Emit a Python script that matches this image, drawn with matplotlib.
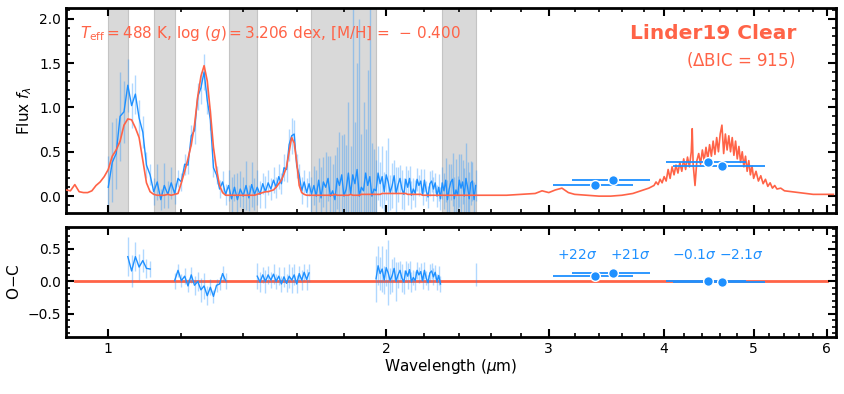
import numpy as np
import matplotlib
matplotlib.use("Agg")
import matplotlib.pyplot as plt
from matplotlib.ticker import MultipleLocator, NullFormatter

# observed spectrum, 1.00 - 2.50 um in 0.01 steps
obs_wl = [
    1.00, 1.01, 1.02, 1.03, 1.04, 1.05, 1.06, 1.07, 1.08, 1.09,
    1.10, 1.11, 1.12, 1.13, 1.14, 1.15, 1.16, 1.17, 1.18, 1.19,
    1.20, 1.21, 1.22, 1.23, 1.24, 1.25, 1.26, 1.27, 1.28, 1.29,
    1.30, 1.31, 1.32, 1.33, 1.34, 1.35, 1.36, 1.37, 1.38, 1.39,
    1.40, 1.41, 1.42, 1.43, 1.44, 1.45, 1.46, 1.47, 1.48, 1.49,
    1.50, 1.51, 1.52, 1.53, 1.54, 1.55, 1.56, 1.57, 1.58, 1.59,
    1.60, 1.61, 1.62, 1.63, 1.64, 1.65, 1.66, 1.67, 1.68, 1.69,
    1.70, 1.71, 1.72, 1.73, 1.74, 1.75, 1.76, 1.77, 1.78, 1.79,
    1.80, 1.81, 1.82, 1.83, 1.84, 1.85, 1.86, 1.87, 1.88, 1.89,
    1.90, 1.91, 1.92, 1.93, 1.94, 1.95, 1.96, 1.97, 1.98, 1.99,
    2.00, 2.01, 2.02, 2.03, 2.04, 2.05, 2.06, 2.07, 2.08, 2.09,
    2.10, 2.11, 2.12, 2.13, 2.14, 2.15, 2.16, 2.17, 2.18, 2.19,
    2.20, 2.21, 2.22, 2.23, 2.24, 2.25, 2.26, 2.27, 2.28, 2.29,
    2.30, 2.31, 2.32, 2.33, 2.34, 2.35, 2.36, 2.37, 2.38, 2.39,
    2.40, 2.41, 2.42, 2.43, 2.44, 2.45, 2.46, 2.47, 2.48, 2.49,
    2.50,
]
obs_flux = [
    0.10, 0.38, 0.48, 0.90, 0.95, 1.25, 1.02, 1.15, 0.88, 0.72,
    0.35, 0.24, 0.05, 0.16, -0.04, 0.12, 0.02, 0.15, 0.03, 0.20,
    0.16, 0.36, 0.35, 0.68, 0.74, 1.12, 1.22, 1.40, 1.08, 0.86,
    0.32, 0.24, 0.08, 0.16, 0.02, 0.12, -0.03, 0.10, -0.04, 0.08,
    0.00, 0.12, -0.02, 0.13, 0.02, 0.10, 0.02, 0.14, 0.05, 0.15,
    0.08, 0.18, 0.10, 0.22, 0.14, 0.32, 0.30, 0.58, 0.68, 0.70,
    0.34, 0.24, 0.06, 0.16, 0.04, 0.14, 0.02, 0.12, 0.00, 0.18,
    -0.02, 0.16, 0.10, 0.20, 0.00, 0.06, -0.04, 0.20, 0.12, 0.24,
    0.00, 0.08, 0.26, 0.02, 0.24, 0.14, 0.30, 0.00, 0.10, 0.06,
    0.26, 0.12, 0.22, 0.00, 0.08, 0.06, 0.26, 0.14, 0.22, 0.05,
    0.24, 0.16, 0.04, 0.12, 0.23, 0.03, 0.13, 0.20, 0.08, 0.02,
    0.19, 0.10, 0.20, 0.01, 0.08, 0.03, 0.19, 0.12, 0.17, 0.02,
    0.18, 0.06, -0.01, 0.14, 0.17, 0.08, 0.15, 0.00, 0.10, -0.03,
    0.15, 0.06, 0.18, -0.04, 0.08, 0.16, 0.19, -0.03, 0.07, 0.01,
    0.18, 0.09, 0.16, 0.00, 0.20, 0.10, -0.03, 0.15, 0.17, -0.04,
    0.12,
]
obs_err = [
    0.35, 0.45, 0.40, 0.50, 0.35, 0.30, 0.25, 0.22, 0.20, 0.18,
    0.15, 0.12, 0.15, 0.20, 0.12, 0.25, 0.15, 0.18, 0.12, 0.10,
    0.10, 0.12, 0.10, 0.12, 0.15, 0.15, 0.18, 0.20, 0.15, 0.12,
    0.10, 0.10, 0.10, 0.12, 0.12, 0.18, 0.25, 0.15, 0.30, 0.20,
    0.22, 0.28, 0.15, 0.25, 0.18, 0.20, 0.15, 0.12, 0.18, 0.14,
    0.12, 0.15, 0.12, 0.14, 0.12, 0.15, 0.14, 0.18, 0.20, 0.16,
    0.14, 0.12, 0.15, 0.13, 0.16, 0.14, 0.20, 0.22, 0.30, 0.25,
    0.35, 0.28, 0.40, 0.25, 0.45, 0.30, 0.50, 0.35, 0.60, 0.45,
    0.70, 0.50, 0.80, 0.55, 1.90, 0.70, 1.20, 2.00, 0.60, 1.00,
    0.50, 1.30, 1.90, 0.60, 0.45, 0.35, 0.30, 0.25, 0.35, 0.22,
    0.28, 0.50, 0.20, 0.25, 0.18, 0.30, 0.20, 0.15, 0.22, 0.18,
    0.15, 0.20, 0.14, 0.16, 0.12, 0.15, 0.13, 0.12, 0.14, 0.12,
    0.13, 0.11, 0.12, 0.14, 0.12, 0.13, 0.11, 0.12, 0.15, 0.13,
    0.18, 0.20, 0.25, 0.22, 0.28, 0.20, 0.30, 0.25, 0.35, 0.22,
    0.30, 0.38, 0.25, 0.32, 0.40, 0.28, 0.30, 0.25, 0.22, 0.20,
    0.18,
]

# model on the same grid as the data
model_on_obs = [
    0.30, 0.45, 0.52, 0.62, 0.80, 0.87, 0.86, 0.77, 0.66, 0.40,
    0.15, 0.05, 0.02, 0.01, 0.01, 0.01, 0.02, 0.01, 0.02, 0.03,
    0.15, 0.28, 0.42, 0.58, 0.80, 1.12, 1.35, 1.47, 1.30, 0.95,
    0.55, 0.30, 0.12, 0.04, 0.01, 0.01, 0.01, 0.01, 0.01, 0.01,
    0.01, 0.01, 0.01, 0.01, 0.01, 0.02, 0.03, 0.04, 0.05, 0.05,
    0.06, 0.07, 0.10, 0.14, 0.18, 0.25, 0.33, 0.50, 0.66, 0.60,
    0.38, 0.12, 0.04, 0.02, 0.01, 0.01, 0.01, 0.01, 0.01, 0.01,
    0.01, 0.01, 0.01, 0.01, 0.01, 0.01, 0.02, 0.01, 0.01, 0.01,
    0.01, 0.01, 0.01, 0.02, 0.01, 0.01, 0.01, 0.01, 0.02, 0.02,
    0.02, 0.02, 0.02, 0.02, 0.02, 0.02, 0.02, 0.02, 0.03, 0.03,
    0.03, 0.03, 0.03, 0.03, 0.03, 0.03, 0.03, 0.03, 0.03, 0.03,
    0.03, 0.02, 0.02, 0.02, 0.02, 0.02, 0.02, 0.02, 0.02, 0.01,
    0.01, 0.01, 0.01, 0.01, 0.01, 0.01, 0.01, 0.01, 0.01, 0.01,
    0.01, 0.01, 0.01, 0.01, 0.01, 0.01, 0.01, 0.01, 0.01, 0.01,
    0.01, 0.01, 0.01, 0.01, 0.01, 0.01, 0.01, 0.01, 0.01, 0.01,
    0.01,
]

# model outside the data range
model_blue_wl = [0.90, 0.91, 0.92, 0.93, 0.94, 0.95, 0.96, 0.97, 0.98, 0.99]
model_blue_flux = [0.07, 0.06, 0.13, 0.05, 0.04, 0.04, 0.06, 0.12, 0.16, 0.22]
model_red_wl = [
    2.55, 2.60, 2.70, 2.80, 2.90, 2.95, 3.00, 3.05, 3.10, 3.15,
    3.20, 3.30, 3.40, 3.50, 3.60, 3.70, 3.75, 3.80, 3.85,
    3.90, 3.92, 3.94, 3.96, 3.98, 4.00, 4.02, 4.04, 4.06, 4.08,
    4.10, 4.12, 4.14, 4.16, 4.18, 4.20, 4.22, 4.24, 4.26, 4.28,
    4.29, 4.30, 4.32, 4.34, 4.36, 4.38, 4.40, 4.42, 4.44, 4.46,
    4.48, 4.50, 4.52, 4.54, 4.56, 4.58, 4.60, 4.62, 4.64, 4.66,
    4.68, 4.70, 4.72, 4.74, 4.76, 4.78, 4.80, 4.82, 4.84, 4.86,
    4.88, 4.90, 4.92, 4.94, 4.96, 4.98, 5.00, 5.03, 5.06, 5.09,
    5.12, 5.15, 5.18, 5.21, 5.24, 5.27, 5.30, 5.35, 5.40, 5.50,
    5.60, 5.70, 5.80, 5.90, 6.00, 6.10,
]
model_red_flux = [
    0.01, 0.01, 0.01, 0.02, 0.03, 0.06, 0.04, 0.07, 0.09, 0.04,
    0.02, 0.01, 0.00, 0.00, 0.01, 0.03, 0.05, 0.07, 0.09,
    0.12, 0.16, 0.13, 0.19, 0.15, 0.22, 0.17, 0.30, 0.20, 0.33,
    0.24, 0.35, 0.26, 0.38, 0.28, 0.42, 0.30, 0.44, 0.33, 0.50,
    0.76, 0.36, 0.12, 0.40, 0.48, 0.36, 0.52, 0.40, 0.55, 0.42,
    0.58, 0.45, 0.62, 0.47, 0.66, 0.50, 0.70, 0.80, 0.48, 0.70,
    0.52, 0.68, 0.50, 0.66, 0.46, 0.62, 0.42, 0.56, 0.38, 0.50,
    0.33, 0.45, 0.28, 0.40, 0.24, 0.34, 0.20, 0.28, 0.17, 0.23,
    0.14, 0.19, 0.11, 0.15, 0.09, 0.12, 0.08, 0.09, 0.06, 0.05,
    0.04, 0.03, 0.02, 0.02, 0.02, 0.02,
]

# masked (shaded) wavelength ranges
mask_lo = [1.00, 1.12, 1.35, 1.66, 2.30]
mask_hi = [1.05, 1.18, 1.45, 1.95, 2.50]

# photometry: WISE W1, IRAC1, IRAC2, WISE W2
phot_wl = [3.37, 3.52, 4.46, 4.62]
phot_flux = [0.12, 0.18, 0.38, 0.34]
phot_lo = [3.03, 3.18, 4.02, 4.09]
phot_hi = [3.70, 3.86, 4.90, 5.15]
phot_resid = [0.08, 0.13, 0.00, -0.01]
phot_sigma = ["+22$\\sigma$", "+21$\\sigma$", "$-$0.1$\\sigma$", "$-$2.1$\\sigma$"]

red = "tomato"
blue = "dodgerblue"

obs_wl = np.array(obs_wl)
obs_flux = np.array(obs_flux)
obs_err = np.array(obs_err)
model_wl = np.concatenate([model_blue_wl, obs_wl, model_red_wl])
model_flux = np.concatenate([model_blue_flux, model_on_obs, model_red_flux])

masked = np.zeros(len(obs_wl), dtype=bool)
for lo, hi in zip(mask_lo, mask_hi):
    masked |= (obs_wl >= lo - 1e-6) & (obs_wl < hi - 1e-6)
resid = np.where(masked, np.nan, obs_flux - np.array(model_on_obs))
resid_err = np.where(masked, np.nan, obs_err)

plt.rcParams["font.family"] = "DejaVu Sans"
plt.rcParams["mathtext.fontset"] = "dejavusans"

fig = plt.figure(figsize=(8.44, 3.94), dpi=100)
ax1 = fig.add_axes([0.0782, 0.4594, 0.9123, 0.5203])
ax2 = fig.add_axes([0.0782, 0.1454, 0.9123, 0.2792])

for lo, hi in zip(mask_lo, mask_hi):
    ax1.axvspan(lo, hi, facecolor="#d9d9d9", edgecolor="#c4c4c4", lw=0.8, zorder=0)

ax1.errorbar(obs_wl, obs_flux, yerr=obs_err, fmt="none", ecolor=blue,
             alpha=0.35, elinewidth=1.0, zorder=1)
ax1.plot(obs_wl, obs_flux, color=blue, lw=1.0, zorder=2)
ax1.plot(model_wl, model_flux, color=red, lw=1.2, zorder=3)

xerr = [np.array(phot_wl) - np.array(phot_lo), np.array(phot_hi) - np.array(phot_wl)]
ax1.errorbar(phot_wl, phot_flux, xerr=xerr, fmt="o", color=blue, ms=7,
             mec="white", mew=1.0, elinewidth=1.3, capsize=0, zorder=5)

ax1.text(0.018, 0.878,
         r"$T_{\rm eff} = 488$ K, $\log\,(g) = 3.206$ dex, [M/H]$\,=\,-\,0.400$",
         transform=ax1.transAxes, color=red, fontsize=11, va="center", ha="left")
ax1.text(0.949, 0.878, "Linder19 Clear", transform=ax1.transAxes, color=red,
         fontsize=14.5, fontweight="bold", va="center", ha="right")
ax1.text(0.947, 0.746, r"($\Delta$BIC = 915)", transform=ax1.transAxes, color=red,
         fontsize=12, va="center", ha="right")

# residual panel
ax2.plot([0.92, 6.0], [0, 0], color=red, lw=2.0, zorder=1)
ax2.errorbar(obs_wl, resid, yerr=resid_err, fmt="none", ecolor=blue,
             alpha=0.35, elinewidth=1.0, zorder=2)
ax2.plot(obs_wl, resid, color=blue, lw=1.0, zorder=3)
ax2.errorbar(phot_wl, phot_resid, xerr=xerr, fmt="o", color=blue, ms=7,
             mec="white", mew=1.0, elinewidth=1.3, capsize=0, zorder=5)
label_shift = [0.955, 1.045, 0.968, 1.05]
for w, s, f in zip(phot_wl, phot_sigma, label_shift):
    ax2.text(w * f, 0.40, s, color=blue, fontsize=10, ha="center", va="center")

for ax in (ax1, ax2):
    ax.set_xscale("log")
    ax.set_xlim(0.90, 6.14)
    ax.set_xticks([1, 2, 3, 4, 5, 6])
    ax.set_xticklabels(["1", "2", "3", "4", "5", "6"])
    ax.xaxis.set_minor_locator(MultipleLocator(0.2))
    ax.xaxis.set_minor_formatter(NullFormatter())
    ax.yaxis.set_major_locator(MultipleLocator(0.5))
    ax.yaxis.set_minor_locator(MultipleLocator(0.1))
    ax.tick_params(which="both", direction="in", top=True, right=True, labelsize=10)
    ax.tick_params(which="major", length=6, width=1.5)
    ax.tick_params(which="minor", length=3, width=1.2)
    for sp in ax.spines.values():
        sp.set_linewidth(2.0)

ax1.set_ylim(-0.19, 2.12)
ax1.tick_params(labelbottom=False)
ax1.set_ylabel(r"Flux $f_\lambda$", fontsize=11)

ax2.set_ylim(-0.85, 0.84)
ax2.set_ylabel("O$-$C", fontsize=11)
ax2.set_xlabel(r"Wavelength ($\mu$m)", fontsize=11, labelpad=1)

fig.savefig("out.png", dpi=100)
